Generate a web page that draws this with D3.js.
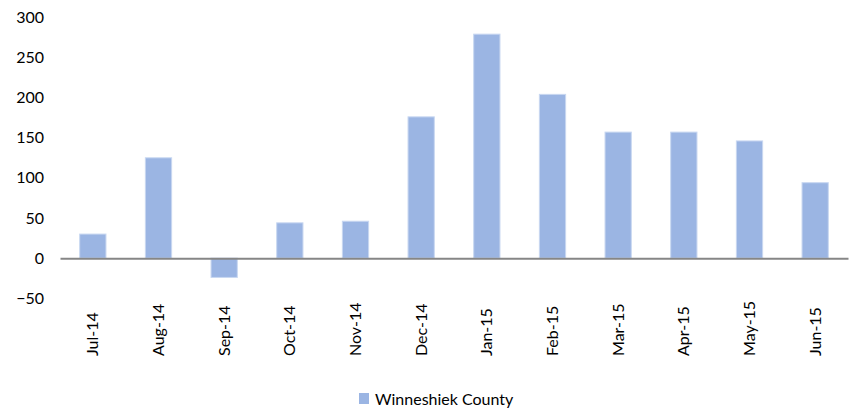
<!DOCTYPE html>
<html>
<head>
<meta charset="utf-8">
<script src="https://cdn.jsdelivr.net/npm/d3@7"></script>
<style>
  body { margin: 0; background: #fff; }
  text { font-family: Lato, "Open Sans", sans-serif; fill: #000; }
</style>
</head>
<body>
<svg id="chart" width="853" height="411"></svg>
<script>
// data
var months = ['Jul-14','Aug-14','Sep-14','Oct-14','Nov-14','Dec-14','Jan-15','Feb-15','Mar-15','Apr-15','May-15','Jun-15'];
var values = [30, 125, -24, 44, 46, 176, 279, 204, 157, 157, 146, 94];
var yTicks = [-50, 0, 50, 100, 150, 200, 250, 300];
var seriesName = 'Winneshiek County';

var svg = d3.select('#chart');

var x = d3.scaleBand()
  .domain(months)
  .range([60, 848])
  .paddingInner(0.6)
  .paddingOuter(0.3);

var y = d3.scaleLinear()
  .domain([-50, 300])
  .range([298.3, 17.3]);

// y labels (no axis line, no ticks)
var yAxis = svg.append('g')
  .attr('transform', 'translate(44,0)')
  .call(d3.axisLeft(y).tickValues(yTicks).tickSize(0).tickPadding(0));
yAxis.select('.domain').remove();
yAxis.selectAll('text')
  .style('font-family', 'Lato, sans-serif')
  .style('font-size', '16px')
  .attr('fill', '#000');

// bars
svg.append('g').selectAll('rect')
  .data(values)
  .join('rect')
  .attr('x', function(d, i){ return x(months[i]); })
  .attr('y', function(d){ return y(Math.max(0, d)); })
  .attr('width', x.bandwidth())
  .attr('height', function(d){ return Math.abs(y(d) - y(0)); })
  .attr('fill', '#9bb5e3')
  .attr('stroke', '#c8d7f1')
  .attr('stroke-width', 1);

// zero line + month labels
var xAxis = svg.append('g')
  .attr('transform', 'translate(0,' + y(0) + ')')
  .call(d3.axisBottom(x).tickSize(0).tickSizeOuter(0));
xAxis.select('.domain')
  .attr('stroke', '#868686')
  .attr('stroke-width', 2);
xAxis.selectAll('text')
  .attr('transform', 'rotate(-90)')
  .attr('x', 0)
  .attr('y', 0)
  .attr('dx', -(356 - y(0)))
  .attr('dy', '0.35em')
  .style('text-anchor', 'start')
  .style('font-family', 'Lato, sans-serif')
  .style('font-size', '16px')
  .attr('fill', '#000');

// legend
var legend = svg.append('g').attr('transform', 'translate(359,393)');
legend.append('rect')
  .attr('width', 10)
  .attr('height', 11)
  .attr('fill', '#9bb5e3');
legend.append('text')
  .attr('x', 16)
  .attr('y', 6)
  .attr('dy', '0.35em')
  .style('font-size', '16px')
  .text(seriesName);
</script>
</body>
</html>
